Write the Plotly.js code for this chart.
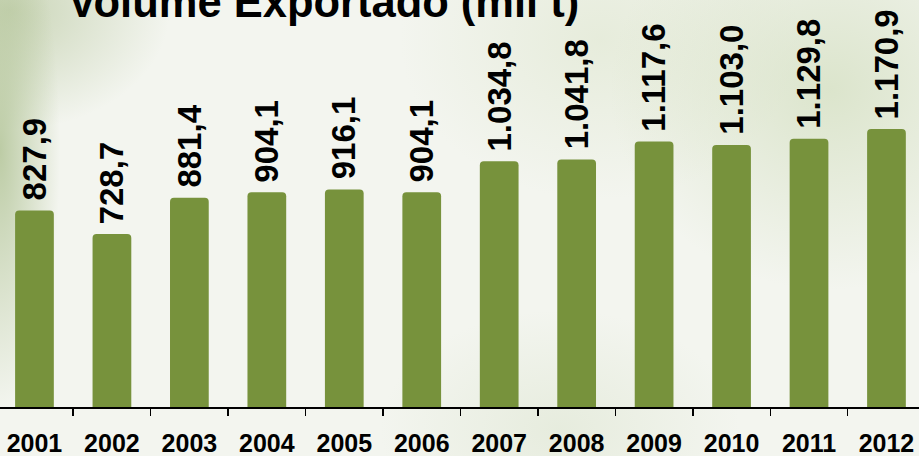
<!DOCTYPE html>
<html>
<head>
<meta charset="utf-8">
<script src="https://cdn.plot.ly/plotly-3.0.1.min.js"></script>
<style>
  html, body { margin: 0; padding: 0; }
  body {
    width: 919px; height: 456px; overflow: hidden;
    background:
      radial-gradient(ellipse 60px 260px at 0px 150px, rgba(170,190,140,0.75), rgba(170,190,140,0) 100%),
      radial-gradient(ellipse 160px 120px at 10px 10px, rgba(185,200,160,0.7), rgba(185,200,160,0) 100%),
      radial-gradient(ellipse 220px 200px at 830px 90px, rgba(200,215,175,0.55), rgba(200,215,175,0) 100%),
      radial-gradient(ellipse 200px 160px at 600px 40px, rgba(215,225,195,0.45), rgba(215,225,195,0) 100%),
      radial-gradient(ellipse 180px 120px at 560px 430px, rgba(215,225,200,0.45), rgba(215,225,200,0) 100%),
      #f3f5ef;
  }
  #chart { width: 919px; height: 456px; }
</style>
</head>
<body>
<div id="chart"></div>
<script>
const years = ['2001','2002','2003','2004','2005','2006','2007','2008','2009','2010','2011','2012'];
const volume = [827.9, 728.7, 881.4, 904.1, 916.1, 904.1, 1034.8, 1041.8, 1117.6, 1103.0, 1129.8, 1170.9];
const chartTitle = 'Volume Exportado (mil t)';

function fmtBR(v) {
  const parts = v.toFixed(1).split('.');
  const intPart = parts[0].replace(/\B(?=(\d{3})+(?!\d))/g, '.');
  return intPart + ',' + parts[1];
}

const FONT = 'Liberation Sans, Arial, sans-serif';

const trace = {
  type: 'bar',
  x: years,
  y: volume,
  marker: { color: '#77923c', cornerradius: 4 },
  hoverinfo: 'skip'
};

const annotations = years.map((yr, i) => ({
  x: i, y: volume[i], xref: 'x', yref: 'y',
  text: fmtBR(volume[i]),
  textangle: -90,
  showarrow: false,
  xanchor: 'center', yanchor: 'bottom',
  yshift: 8,
  font: { family: FONT, size: 33, weight: 'bold', color: '#000' }
}));

const layout = {
  width: 919, height: 456,
  margin: { l: 0, r: 0, t: 0, b: 49, pad: 0 },
  paper_bgcolor: 'rgba(0,0,0,0)',
  plot_bgcolor: 'rgba(0,0,0,0)',
  showlegend: false,
  bargap: 0.5,
  title: {
    text: chartTitle,
    x: 0.352, xanchor: 'center', xref: 'paper',
    y: 0.9956, yanchor: 'middle', yref: 'container',
    font: { family: FONT, size: 43.5, weight: 'bold', color: '#000' }
  },
  xaxis: {
    type: 'category',
    range: [-0.445, 11.42],
    showline: true, linecolor: '#000', linewidth: 1.5,
    ticks: 'outside', tickson: 'boundaries', ticklen: 7, tickwidth: 1.5, tickcolor: '#000',
    ticklabelstandoff: 13,
    showgrid: false, zeroline: false,
    tickfont: { family: FONT, size: 25, weight: 'bold', color: '#000' },
    fixedrange: true
  },
  yaxis: {
    range: [0, 1714],
    showgrid: false, zeroline: false, showline: false,
    showticklabels: false, ticks: '',
    fixedrange: true
  },
  annotations: annotations
};

Plotly.newPlot('chart', [trace], layout, { displayModeBar: false, staticPlot: true });
</script>
</body>
</html>
